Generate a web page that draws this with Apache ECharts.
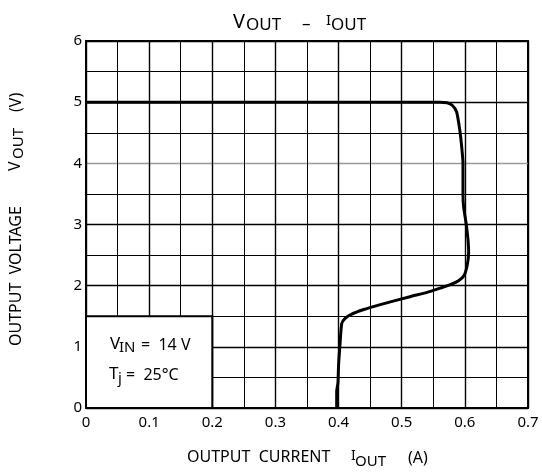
<!DOCTYPE html>
<html><head><meta charset="utf-8">
<script src="https://cdn.jsdelivr.net/npm/echarts@6/dist/echarts.min.js"></script>
<style>html,body{margin:0;padding:0;background:#fff}#c{width:542px;height:472px}</style>
</head><body><div id="c"></div>
<script>
// Tick labels
const xTickLabels = ['0', '0.1', '0.2', '0.3', '0.4', '0.5', '0.6', '0.7'];
const yTickLabels = ['0', '1', '2', '3', '4', '5', '6'];
// Output current (A) and output voltage (V)
const curveI = [0, 0.3, 0.56, 0.572, 0.580, 0.587, 0.592, 0.595, 0.597, 0.597, 0.598, 0.602, 0.605, 0.606, 0.604, 0.599, 0.590, 0.578, 0.561, 0.540, 0.513, 0.466, 0.440, 0.420, 0.410, 0.405, 0.402, 0.400, 0.399, 0.397, 0.397];
const curveV = [5, 5, 5, 4.99, 4.95, 4.84, 4.54, 4.27, 4.0, 3.5, 3.29, 3.02, 2.75, 2.55, 2.35, 2.17, 2.08, 2.02, 1.96, 1.89, 1.82, 1.69, 1.61, 1.53, 1.46, 1.38, 1.0, 0.7, 0.41, 0.27, 0];
// Condition box corners (A, V)
const boxI = [0, 0.2];
const boxV = [0, 1.5];

const FONT = '"Noto Sans", sans-serif';
const chart = echarts.init(document.getElementById('c'), null, {renderer: 'canvas'});

function t(x, y, text, size, extra) {
  return Object.assign({type: 'text', x: x, y: y, z: 100,
    style: {text: text, fontSize: size, fontFamily: FONT, fill: '#000', align: 'left', verticalAlign: 'middle'}}, extra || {});
}

const option = {
  backgroundColor: '#fff',
  animation: false,
  grid: {left: 86, right: 14, top: 41, bottom: 64, show: true, borderColor: '#000', borderWidth: 2},
  xAxis: {
    type: 'value', min: 0, max: 0.7, interval: 0.1,
    axisLine: {show: true, lineStyle: {color: '#000', width: 2}},
    axisTick: {show: false},
    minorTick: {show: false, splitNumber: 2},
    axisLabel: {color: '#000', fontSize: 15, fontFamily: FONT, margin: 7,
      formatter: (v, i) => xTickLabels[i]},
    splitLine: {show: true, showMinLine: true, showMaxLine: true, lineStyle: {color: '#000', width: 1.4}},
    minorSplitLine: {show: true, lineStyle: {color: '#000', width: 1}}
  },
  yAxis: {
    type: 'value', min: 0, max: 6, interval: 1,
    axisLine: {show: true, lineStyle: {color: '#000', width: 2}},
    axisTick: {show: false},
    minorTick: {show: false, splitNumber: 2},
    axisLabel: {color: '#000', fontSize: 15, fontFamily: FONT, margin: 4,
      formatter: (v, i) => yTickLabels[i]},
    splitLine: {show: true, showMinLine: true, showMaxLine: true,
      lineStyle: {color: ['#000', '#000', '#000', '#000', '#9a9a9a', '#000', '#000'], width: 1.4}},
    minorSplitLine: {show: true, lineStyle: {color: '#000', width: 1}}
  },
  series: [{
    type: 'line',
    data: curveI.map((x, i) => [x, curveV[i]]),
    showSymbol: false,
    smooth: 0.2,
    lineStyle: {color: '#000', width: 3},
    z: 5,
    markArea: {
      silent: true,
      itemStyle: {color: '#fff', borderColor: '#000', borderWidth: 2},
      data: [[{coord: [boxI[0], boxV[0]]}, {coord: [boxI[1], boxV[1]]}]]
    }
  }],
  graphic: [
    // title
    t(233, 22, 'V', 20),
    t(246, 25, 'OUT', 17),
    t(302, 24, '\u2013', 17),
    t(326, 21, 'I', 15),
    t(331, 25, 'OUT', 17),
    // x axis title
    t(187, 457.5, 'OUTPUT  CURRENT', 16),
    t(351, 456, 'I', 14),
    t(355, 462, 'OUT', 15),
    t(408, 458, '(A)', 16),
    // y axis title (rotated)
    {type: 'group', x: 16.5, y: 346, rotation: Math.PI / 2, z: 100, children: [
      t(0, 0, 'OUTPUT  VOLTAGE', 16),
      t(175, -1.5, 'V', 16),
      t(187, 2.5, 'OUT', 15),
      t(234, 0, '(V)', 16)
    ]},
    // condition text
    t(110, 344, 'V', 17),
    t(119, 347.5, 'IN', 15),
    t(141, 345, '=  14 V', 16),
    t(109, 374, 'T', 17),
    t(118, 379, 'j', 15),
    t(126, 375, '=  25\u00b0C', 16)
  ]
};
chart.setOption(option);
</script>
</body></html>
